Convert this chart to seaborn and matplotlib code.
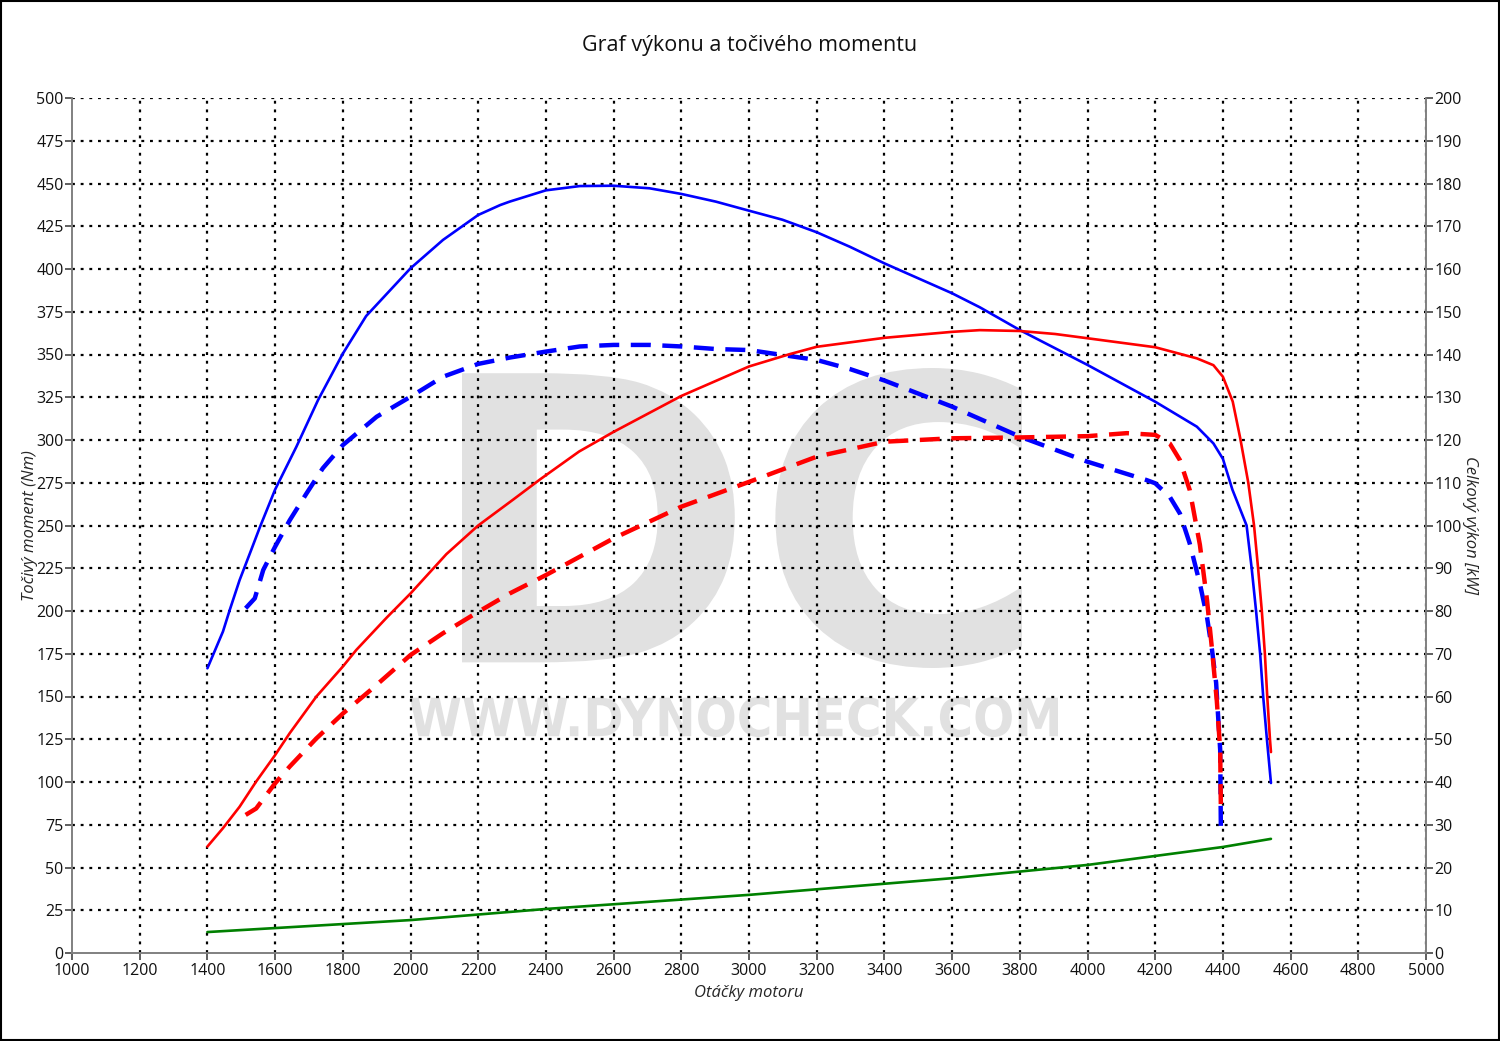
import numpy as np
import pandas as pd
import matplotlib
matplotlib.use("Agg")
import matplotlib.pyplot as plt
import seaborn as sns
from matplotlib.textpath import TextPath
from matplotlib.font_manager import FontProperties
from matplotlib.patches import PathPatch, Rectangle
from matplotlib.transforms import Affine2D

# ---------------- data ----------------
torque_tuned_rpm = [1400, 1446, 1466, 1495, 1530, 1555, 1600, 1663, 1727, 1800, 1869, 2000, 2096, 2200,
                    2265, 2293, 2400, 2500, 2600, 2706, 2800, 2902, 3000, 3099, 3200, 3298, 3400,
                    3600, 3682, 3800, 4000, 4200, 4323, 4372, 4400, 4428, 4470, 4485, 4498,
                    4510, 4519, 4530, 4542]
torque_tuned_nm = [166.5, 188, 200.6, 218, 236, 249, 271, 296.1, 323.4, 350.5, 372.5, 400.4, 417, 431.6,
                   437.4, 439.4, 446, 448.5, 448.7, 447.2, 443.9, 439.4, 434.1, 428.8, 421.5, 413, 403.3,
                   385.8, 377.6, 364.3, 343.9, 322.4, 307.8, 298, 289, 271, 250, 225, 200,
                   175, 150, 125, 99.4]

torque_stock_rpm = [1513, 1540, 1565, 1600, 1643, 1692, 1741, 1800, 1900, 2000, 2096, 2200, 2293,
                    2400, 2500, 2600, 2706, 2800, 2902, 3000, 3099, 3200, 3298, 3400, 3600,
                    3800, 4000, 4174, 4200, 4243, 4273, 4302, 4332, 4353, 4368, 4380, 4386, 4392, 4394]
torque_stock_nm = [201.6, 207.4, 224, 237.6, 253, 268.5, 283.5, 297, 313.6, 325.3, 337, 344.5, 348.2,
                   351.7, 354.7, 355.6, 355.6, 354.7, 353.2, 352.6, 349.7, 346.8, 341.5, 334.8, 319.5,
                   302, 287.3, 276.6, 274.7, 266.8, 257, 239.5, 216, 196.5, 177, 158, 138, 118.7, 72]

power_tuned_rpm = [1400, 1446, 1495, 1544, 1600, 1643, 1722, 1800, 1840, 1929, 2000, 2106, 2200,
                   2304, 2383, 2498, 2600, 2800, 3000, 3121, 3200, 3400, 3600, 3682, 3800, 3904, 4000,
                   4200, 4323, 4372, 4400, 4429, 4451, 4475, 4492, 4504, 4515, 4524, 4531, 4539, 4542]
power_tuned_kw = [24.9, 29.2, 34.2, 40.1, 46.3, 51.4, 60, 67, 70.9, 78.4, 84.1, 93.3, 100,
                  106.1, 110.8, 117.3, 121.9, 130.3, 137.2, 140.1, 141.8, 143.9, 145.3, 145.7, 145.5, 144.8, 143.8,
                  141.7, 139.1, 137.5, 134.8, 129, 120.5, 110, 100, 90, 80, 70, 60, 50, 47]

power_stock_rpm = [1513, 1544, 1600, 1643, 1722, 1800, 1888, 2000, 2096, 2200, 2293, 2400, 2600,
                   2800, 3000, 3200, 3400, 3600, 3800, 4000, 4116, 4200, 4243, 4273, 4302, 4332,
                   4353, 4368, 4382, 4392, 4394]
power_stock_kw = [32.3, 33.8, 39.7, 43.6, 50.2, 56, 61.9, 69.7, 74.8, 79.8, 84.1, 88.4, 97,
                  104.4, 110.2, 116.1, 119.6, 120.4, 120.6, 120.9, 121.6, 121.2, 119.2, 115.3, 108.3, 95.5,
                  82.6, 70.9, 59, 47.5, 33.9]

loss_rpm = [1400, 2000, 2400, 3000, 3600, 4000, 4400, 4542]
loss_kw = [4.9, 7.7, 10.3, 13.6, 17.5, 20.6, 24.8, 26.7]

x_ticks = list(range(1000, 5001, 200))
y_ticks_left = list(range(0, 501, 25))
y_ticks_right = list(range(0, 201, 10))

title = "Graf výkonu a točivého momentu"
xlabel = "Otáčky motoru"
ylabel_left = "Točivý moment (Nm)"
ylabel_right = "Celkový výkon [kW]"

# ---------------- figure ----------------
sns.set_theme(style="white")
plt.rcParams["font.family"] = ["Open Sans", "DejaVu Sans"]

W, H = 1500, 1041
fig = plt.figure(figsize=(W / 100, H / 100), dpi=100)
fig.patch.set_facecolor("white")

# frame around the figure
fig.patches.append(Rectangle((0.0007, 0.001), 0.9986, 0.998, transform=fig.transFigure,
                             fill=False, edgecolor="black", linewidth=1.5, zorder=10))

# watermark
def text_patch(s, x0, y0, x1, y1, color="#e1e1e1"):
    tp = TextPath((0, 0), s, size=100, prop=FontProperties(family="DejaVu Sans", weight="bold"))
    ext = tp.get_extents()
    sx = (x1 - x0) / ext.width
    sy = (y1 - y0) / ext.height
    tr = Affine2D().translate(-ext.x0, -ext.y0).scale(sx, sy).translate(x0, H - y1)
    tr = tr + Affine2D().scale(1 / W, 1 / H)
    path = tr.transform_path(tp)
    p = PathPatch(path, facecolor=color, edgecolor="none", transform=fig.transFigure, zorder=-5)
    fig.patches.append(p)

text_patch("DC", 462, 368, 1022, 668)
text_patch("WWW.DYNOCHECK.COM", 410, 697, 1058, 737)

left, right = 72 / W, 1426 / W
bottom, top = (H - 953) / H, (H - 98) / H
ax = fig.add_axes([left, bottom, right - left, top - bottom])
ax.set_facecolor("none")
ax2 = ax.twinx()
ax2.set_facecolor("none")

grid_kw = dict(color="black", linewidth=1.6, linestyle=(0, (1.3, 2.6)))
ax.set_axisbelow(True)
for t in x_ticks[1:]:
    ax.axvline(t, zorder=0.5, **grid_kw)
for t in y_ticks_left[1:]:
    ax.axhline(t, zorder=0.5, **grid_kw)

sns.lineplot(x=torque_tuned_rpm, y=torque_tuned_nm, ax=ax, color="#0000ff", linewidth=1.9,
             estimator=None, sort=False, zorder=3)
sns.lineplot(x=torque_stock_rpm, y=torque_stock_nm, ax=ax, color="#0000ff", linewidth=3.2,
             estimator=None, sort=False, zorder=3)
ax.lines[-1].set_dashes((4.5, 2.6))

sns.lineplot(x=power_tuned_rpm, y=power_tuned_kw, ax=ax2, color="#ff0000", linewidth=1.9,
             estimator=None, sort=False, zorder=3)
sns.lineplot(x=power_stock_rpm, y=power_stock_kw, ax=ax2, color="#ff0000", linewidth=3.2,
             estimator=None, sort=False, zorder=3)
ax2.lines[-1].set_dashes((4.5, 2.6))
sns.lineplot(x=loss_rpm, y=loss_kw, ax=ax2, color="#008000", linewidth=1.9,
             estimator=None, sort=False, zorder=3)

ax.set_xlim(1000, 5000)
ax.set_ylim(0, 500)
ax2.set_ylim(0, 200)
ax.set_xticks(x_ticks)
ax.set_yticks(y_ticks_left)
ax2.set_yticks(y_ticks_right)

for a in (ax, ax2):
    for s in a.spines.values():
        s.set_color("#808080")
        s.set_linewidth(1.2)
    a.spines["top"].set_visible(False)
    a.tick_params(direction="out", length=5, width=1.1, color="#333333",
                  labelsize=11.5, labelcolor="#111111", pad=1)

ax.tick_params(axis="x", pad=2)
ax2.tick_params(axis="y", right=True, left=False)
ax.tick_params(axis="y", left=True)
ax.tick_params(axis="x", bottom=True)

ax.set_xlabel(xlabel, fontsize=12, style="italic", va="center")
ax.set_ylabel(ylabel_left, fontsize=12, style="italic", va="center")
ax2.set_ylabel(ylabel_right, fontsize=12, style="italic", rotation=-90, va="center")
ax.xaxis.set_label_coords(0.5, -0.0468)
ax.yaxis.set_label_coords(-0.031, 0.5)
ax2.yaxis.set_label_coords(1.0325, 0.5)

fig.text(0.5, (H - 46) / H, title, ha="center", va="center", fontsize=15.5, color="#111111")

fig.savefig("out.png", dpi=100)
